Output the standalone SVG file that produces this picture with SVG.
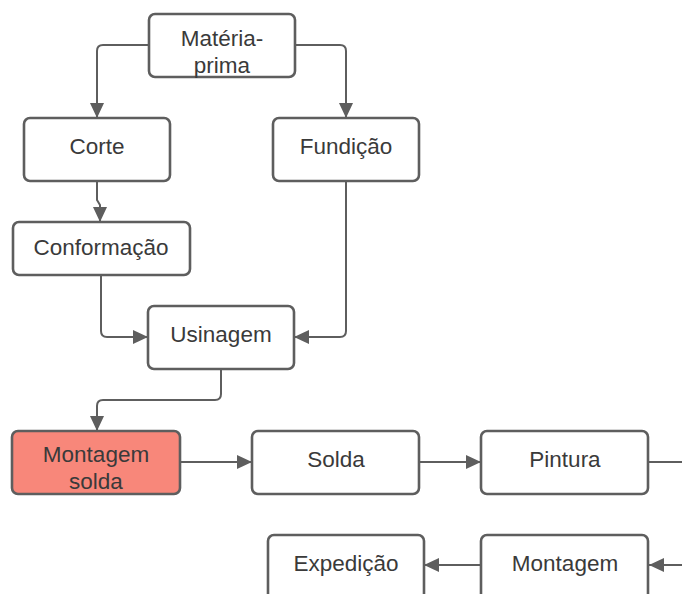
<svg xmlns="http://www.w3.org/2000/svg" width="682" height="594" viewBox="0 0 682 594">
<style>
.box{fill:#ffffff;stroke:#5e5e5e;stroke-width:2.6}
.red{fill:#f8877a}
.lbl{font-family:"Liberation Sans",Arial,sans-serif;font-size:22.5px;fill:#3a3a3a;text-anchor:middle}
.con{fill:none;stroke:#5e5e5e;stroke-width:2}
</style>
<defs>
<marker id="arr" markerUnits="userSpaceOnUse" markerWidth="18" markerHeight="15" refX="15" refY="7" orient="auto">
<path d="M0,0 L15,7 L0,14 Z" fill="#5e5e5e"/>
</marker>
</defs>
<rect width="682" height="594" fill="#ffffff"/>
<g id="connectors">
<path class="con" d="M149 45 H103 Q97 45 97 51 V118" marker-end="url(#arr)"/>
<path class="con" d="M295 45 H340 Q346 45 346 51 V118" marker-end="url(#arr)"/>
<path class="con" d="M97 181 V200 L100 205 V222" marker-end="url(#arr)"/>
<path class="con" d="M101 275 V331 Q101 337 107 337 H148" marker-end="url(#arr)"/>
<path class="con" d="M346 181 V331 Q346 337 340 337 H294" marker-end="url(#arr)"/>
<path class="con" d="M221 369 V394 Q221 400 215 400 H103 Q97 400 97 406 V431" marker-end="url(#arr)"/>
<path class="con" d="M180 462 H252" marker-end="url(#arr)"/>
<path class="con" d="M419 462 H481" marker-end="url(#arr)"/>
<path class="con" d="M648 462 H682"/>
<path class="con" d="M682 565 H649" marker-end="url(#arr)"/>
<path class="con" d="M481 565 H424" marker-end="url(#arr)"/>
</g>
<g id="materia-prima">
<rect class="box" x="149" y="14" width="146" height="63" rx="6"/>
<text class="lbl" x="222" y="46">Matéria-</text>
<text class="lbl" x="222" y="73">prima</text>
</g>
<g id="corte">
<rect class="box" x="24" y="118" width="146" height="63" rx="6"/>
<text class="lbl" x="97" y="154">Corte</text>
</g>
<g id="fundicao">
<rect class="box" x="273" y="118" width="146" height="63" rx="6"/>
<text class="lbl" x="346" y="154">Fundição</text>
</g>
<g id="conformacao">
<rect class="box" x="13" y="222" width="177" height="53" rx="6"/>
<text class="lbl" x="101" y="255">Conformação</text>
</g>
<g id="usinagem">
<rect class="box" x="148" y="306" width="146" height="63" rx="6"/>
<text class="lbl" x="221" y="342">Usinagem</text>
</g>
<g id="montagem-solda">
<rect class="box red" x="12" y="431" width="168" height="63" rx="6"/>
<text class="lbl" x="96" y="462">Montagem</text>
<text class="lbl" x="96" y="489">solda</text>
</g>
<g id="solda">
<rect class="box" x="252" y="431" width="167" height="63" rx="6"/>
<text class="lbl" x="336" y="467">Solda</text>
</g>
<g id="pintura">
<rect class="box" x="481" y="431" width="167" height="63" rx="6"/>
<text class="lbl" x="565" y="467">Pintura</text>
</g>
<g id="expedicao">
<rect class="box" x="268" y="535" width="156" height="70" rx="6"/>
<text class="lbl" x="346" y="571">Expedição</text>
</g>
<g id="montagem">
<rect class="box" x="481" y="535" width="167" height="70" rx="6"/>
<text class="lbl" x="565" y="571">Montagem</text>
</g>
</svg>
